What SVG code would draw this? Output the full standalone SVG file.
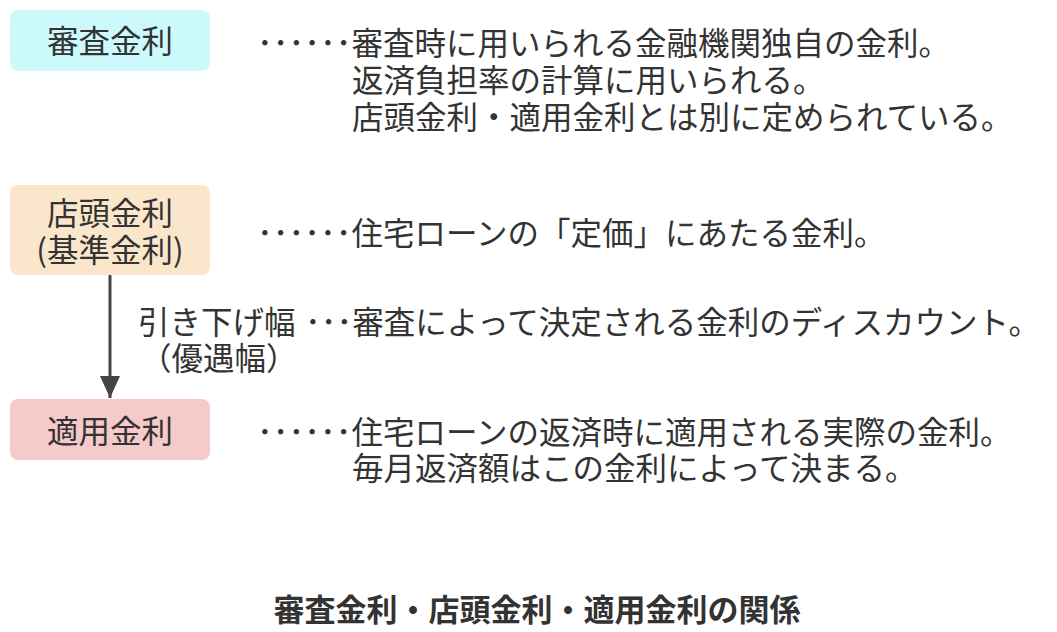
<svg xmlns="http://www.w3.org/2000/svg" width="1057" height="632" viewBox="0 0 1057 632">
<style>
text { font-family: "Noto Sans CJK JP", "Noto Sans CJK SC", sans-serif; font-size: 31.5px; fill: #333333; dominant-baseline: central; }
.c { text-anchor: middle; }
.title { font-weight: bold; font-size: 31px; }
.box { rx: 8; ry: 8; }
</style>
<defs>
<marker id="ah" viewBox="0 0 22 20" refX="22" refY="10" markerWidth="22" markerHeight="20" markerUnits="userSpaceOnUse" orient="auto">
<path d="M0,0 L22,10 L0,20 Z" fill="#444444"/>
</marker>
</defs>
<rect width="1057" height="632" fill="#ffffff"/>
<g id="connectors">
<line x1="110" y1="275" x2="110" y2="398" stroke="#444444" stroke-width="3" marker-end="url(#ah)"/>
<text x="138" y="320">引き下げ幅</text>
<text x="140" y="356">（優遇幅）</text>
</g>
<g id="node-shinsa">
<rect class="box" x="10" y="10" width="200" height="61" fill="#ccfafc"/>
<text class="c" x="110" y="39">審査金利</text>
</g>
<g id="desc-shinsa">
<text x="257" y="41">･･････審査時に用いられる金融機関独自の金利。</text>
<text x="352" y="78">返済負担率の計算に用いられる。</text>
<text x="352" y="115">店頭金利・適用金利とは別に定められている。</text>
</g>
<g id="node-tento">
<rect class="box" x="10" y="185" width="200" height="90" fill="#fae7cb"/>
<text class="c" x="110" y="211">店頭金利</text>
<text class="c" x="110" y="248">(基準金利)</text>
</g>
<g id="desc-tento">
<text x="257" y="231">･･････住宅ローンの「定価」にあたる金利。</text>
</g>
<g id="desc-hikisage">
<text x="305" y="320">･･･審査によって決定される金利のディスカウント。</text>
</g>
<g id="node-tekiyo">
<rect class="box" x="10" y="399" width="200" height="61" fill="#f6c9cb"/>
<text class="c" x="110" y="429">適用金利</text>
</g>
<g id="desc-tekiyo">
<text x="257" y="430">･･････住宅ローンの返済時に適用される実際の金利。</text>
<text x="352" y="466">毎月返済額はこの金利によって決まる。</text>
</g>
<g id="title">
<text class="c title" x="537" y="607">審査金利・店頭金利・適用金利の関係</text>
</g>
</svg>
